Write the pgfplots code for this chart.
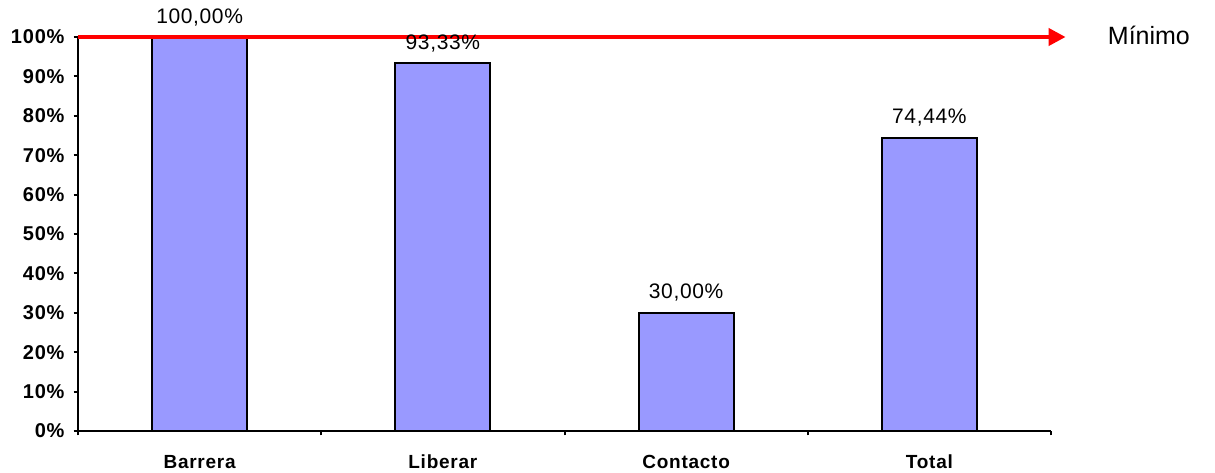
\documentclass[border=0pt]{standalone}
\usepackage{pgfplots}
\pgfplotsset{compat=1.18}
\usepackage{fontspec}
\setmainfont{Liberation Sans}
\usetikzlibrary{arrows.meta}
\definecolor{barblue}{HTML}{9999FF}

\begin{document}
\begin{tikzpicture}
\begin{axis}[
  name=ax,
  scale only axis,
  width=486.5pt, height=197pt,
  xmin=-0.5, xmax=3.5,
  ymin=0, ymax=100,
  axis lines*=left,
  axis line style={black, line width=1pt},
  tick align=outside,
  major tick length=2.2pt,
  tick style={black, line width=1pt},
  ytick={0,10,...,100},
  yticklabel={\pgfmathprintnumber{\tick}\%},
  /pgf/number format/assume math mode=true,
  yticklabel style={font=\fontsize{10}{11}\selectfont\bfseries\addfontfeatures{LetterSpace=4}, xshift=-1pt},
  xtick={-0.5,0.5,1.5,2.5,3.5},
  xticklabels={},
  extra x ticks={0,1,2,3},
  extra x tick labels={Barrera,Liberar,Contacto,Total},
  extra x tick style={major tick length=0pt,
    tick label style={font=\fontsize{9.5}{11}\selectfont\bfseries\addfontfeatures{LetterSpace=4},
      text height=7pt, text depth=0pt, anchor=north, yshift=-8pt}},
  clip=false,
  ybar, bar width=47.5pt,
  nodes near coords={\pgfmathprintnumber[fixed,fixed zerofill,precision=2,use comma]{\pgfplotspointmeta}\%},
  nodes near coords style={font=\fontsize{10.5}{12}\selectfont\addfontfeatures{LetterSpace=3}, anchor=south, yshift=1.8pt},
]
\addplot[fill=barblue, draw=black, line width=1pt]
  coordinates {(0,100) (1,93.33) (2,30) (3,74.44)};
\draw[red, line width=2pt, -{Triangle[length=8.5pt,width=8.5pt]}]
  (axis cs:-0.5,100) -- (axis cs:3.56,100);
\node[anchor=west, font=\fontsize{12.5}{14}\selectfont] at (axis cs:3.705,100.3) {Mínimo};
\end{axis}
\pgfresetboundingbox
\path[use as bounding box] ([shift={(-39pt,-20.5pt)}]ax.south west) rectangle ([shift={(568.5pt,215.5pt)}]ax.south west);
\end{tikzpicture}
\end{document}
